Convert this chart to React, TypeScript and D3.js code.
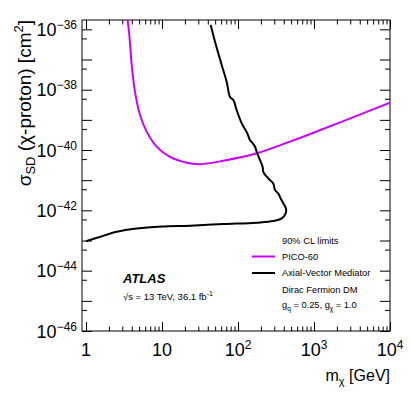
import React, { useEffect, useRef } from "react";
import * as d3 from "d3";

// PICO-60 limit (mass in GeV, cross section in cm^2)
const picoMass = [3.45, 3.71, 3.99, 4.41, 5.14, 6.3, 8.5, 12.7, 21.1, 31.6, 64, 176, 483, 1000, 3000, 10000];
const picoSigma = [3.2e-36, 6.5e-37, 6.6e-38, 8.5e-39, 1.45e-39, 4.0e-40, 1.3e-40, 5.9e-41, 3.8e-41, 3.4e-41, 4.4e-41, 7.8e-41, 1.9e-40, 3.8e-40, 1.12e-39, 3.7e-39];

// ATLAS axial-vector mediator limit
const avMass = [1, 1.53, 2.53, 4.65, 10, 23.4, 64, 176, 291, 376, 424, 428, 395, 365, 339, 307, 291, 264, 239, 215, 211, 195, 176, 167, 151, 144, 133, 112, 96, 87, 78.5, 71, 61, 49.8, 43.7];
const avSigma = [9.5e-44, 1.32e-43, 1.95e-43, 2.5e-43, 2.9e-43, 3.1e-43, 3.5e-43, 3.9e-43, 4.4e-43, 5.4e-43, 7.9e-43, 1.15e-42, 1.7e-42, 2.45e-42, 3.6e-42, 4.7e-42, 7.8e-42, 1.0e-41, 1.3e-41, 1.9e-41, 2.75e-41, 4.6e-41, 8.7e-41, 1.3e-40, 1.85e-40, 2.1e-40, 3.5e-40, 7.6e-40, 2.1e-39, 4.5e-39, 5.75e-39, 1.8e-38, 6.6e-38, 3.9e-37, 1.4e-36];

const yExponents = [-36, -37, -38, -39, -40, -41, -42, -43, -44, -45, -46];
const yLabelExponents = [-36, -38, -40, -42, -44, -46];
const xDecades = [1, 10, 100, 1000, 10000];
const xLabelExp = [0, 1, 2, 3, 4];

const legendLines = ["90% CL limits", "PICO-60", "Axial-Vector Mediator", "Dirac Fermion DM"];

const MAGENTA = "#cc00ff";
const FONT = "'Liberation Sans', Arial, Helvetica, sans-serif";

function Chart() {
  const canvas = useRef<HTMLDivElement>(null);

  const drawChart = () => {
    const width = 411;
    const height = 395;
    const margin = { top: 20, left: 82, bottom: 64, right: 21 };
    const uWidth = width - margin.left - margin.right;
    const uHeight = height - margin.top - margin.bottom;

    d3.select(canvas.current).selectAll("*").remove();

    const svg = d3
      .select(canvas.current)
      .append("svg")
      .attr("width", width)
      .attr("height", height)
      .style("position", "absolute")
      .style("left", 0)
      .style("top", 0)
      .style("font-family", FONT);

    svg.append("rect").attr("width", width).attr("height", height).attr("fill", "white");

    const g = svg.append("g").attr("transform", `translate(${margin.left},${margin.top})`);

    const x = d3.scaleLog().domain([0.885, 10000]).range([0, uWidth]);
    const y = d3.scaleLog().domain([1e-46, Math.pow(10, -35.69)]).range([uHeight, 0]);

    g.append("clipPath")
      .attr("id", "frame-clip")
      .append("rect")
      .attr("width", uWidth)
      .attr("height", uHeight);

    // ticks
    const yMajor = yExponents.map((e) => Math.pow(10, e));
    const yMinor = yExponents.map((e) => 5 * Math.pow(10, e)).filter((v) => v < y.domain()[1]);
    const xMinor: number[] = [];
    xDecades.slice(0, 4).forEach((d) => {
      for (let k = 2; k <= 9; k++) xMinor.push(k * d);
    });

    const tickStyle = (sel: any) => {
      sel.select(".domain").remove();
      sel.selectAll("line").attr("stroke", "#000").attr("stroke-width", 1);
      sel.selectAll("text").remove();
    };

    g.append("g").call(d3.axisLeft(y).tickValues(yMajor).tickSize(-10)).call(tickStyle);
    g.append("g").call(d3.axisLeft(y).tickValues(yMinor).tickSize(-5)).call(tickStyle);
    g.append("g")
      .attr("transform", `translate(${uWidth},0)`)
      .call(d3.axisRight(y).tickValues(yMajor).tickSize(-10))
      .call(tickStyle);
    g.append("g")
      .attr("transform", `translate(${uWidth},0)`)
      .call(d3.axisRight(y).tickValues(yMinor).tickSize(-5))
      .call(tickStyle);
    g.append("g")
      .attr("transform", `translate(0,${uHeight})`)
      .call(d3.axisBottom(x).tickValues(xDecades).tickSize(-9))
      .call(tickStyle);
    g.append("g")
      .attr("transform", `translate(0,${uHeight})`)
      .call(d3.axisBottom(x).tickValues(xMinor).tickSize(-4.5))
      .call(tickStyle);
    g.append("g").call(d3.axisTop(x).tickValues(xDecades).tickSize(-9)).call(tickStyle);
    g.append("g").call(d3.axisTop(x).tickValues(xMinor).tickSize(-4.5)).call(tickStyle);

    g.append("rect")
      .attr("width", uWidth)
      .attr("height", uHeight)
      .attr("fill", "none")
      .attr("stroke", "#000")
      .attr("stroke-width", 1);

    // y tick labels
    yLabelExponents.forEach((e) => {
      const t = g
        .append("text")
        .attr("x", -5)
        .attr("y", y(Math.pow(10, e)) + 6.5)
        .attr("text-anchor", "end")
        .attr("font-size", 18);
      t.append("tspan").text("10");
      t.append("tspan").attr("font-size", 12).attr("dy", -7).text("\u2212" + Math.abs(e));
    });

    // x tick labels
    xLabelExp.forEach((e) => {
      const t = g
        .append("text")
        .attr("x", x(Math.pow(10, e)))
        .attr("y", uHeight + 25)
        .attr("text-anchor", "middle")
        .attr("font-size", 18);
      if (e === 0) t.text("1");
      else if (e === 1) t.text("10");
      else {
        t.append("tspan").text("10");
        t.append("tspan").attr("font-size", 12).attr("dy", -7).text(String(e));
      }
    });

    // curves
    const line = d3
      .line<[number, number]>()
      .x((d) => x(d[0]))
      .y((d) => y(d[1]))
      .curve(d3.curveCatmullRom);

    const curves = g.append("g").attr("clip-path", "url(#frame-clip)");
    curves
      .append("path")
      .datum(picoMass.map((m, i) => [m, picoSigma[i]] as [number, number]))
      .attr("d", line)
      .attr("fill", "none")
      .attr("stroke", MAGENTA)
      .attr("stroke-width", 2);
    curves
      .append("path")
      .datum(avMass.map((m, i) => [m, avSigma[i]] as [number, number]))
      .attr("d", line)
      .attr("fill", "none")
      .attr("stroke", "#000")
      .attr("stroke-width", 2);

    // axis titles
    const yt = svg
      .append("text")
      .attr("transform", "translate(31,20) rotate(-90)")
      .attr("text-anchor", "end")
      .attr("font-size", 19);
    yt.append("tspan").text("\u03c3");
    yt.append("tspan").attr("font-size", 13).attr("dy", 4).text("SD");
    yt.append("tspan").attr("dy", -4).text(" (\u03c7-proton) [cm");
    yt.append("tspan").attr("font-size", 13).attr("dy", -8).text("2");
    yt.append("tspan").attr("dy", 8).text("]");

    const xt = svg
      .append("text")
      .attr("x", 390)
      .attr("y", 381)
      .attr("text-anchor", "end")
      .attr("font-size", 16);
    xt.append("tspan").text("m");
    xt.append("tspan").attr("font-size", 11).attr("dy", 4).text("\u03c7");
    xt.append("tspan").attr("dy", -4).text(" [GeV]");

    // legend
    const lx = 282;
    const ly = [243.5, 259.5, 276, 292.5];
    legendLines.forEach((s, i) => {
      svg.append("text").attr("x", lx).attr("y", ly[i]).attr("font-size", 9.3).text(s);
    });
    svg.append("line").attr("x1", 252).attr("x2", 275).attr("y1", 256.5).attr("y2", 256.5).attr("stroke", MAGENTA).attr("stroke-width", 2);
    svg.append("line").attr("x1", 252).attr("x2", 275).attr("y1", 273).attr("y2", 273).attr("stroke", "#000").attr("stroke-width", 2);
    const gq = svg.append("text").attr("x", lx).attr("y", 308).attr("font-size", 9.3);
    gq.append("tspan").text("g");
    gq.append("tspan").attr("font-size", 6.5).attr("dy", 3).text("q");
    gq.append("tspan").attr("dy", -3).text(" = 0.25, g");
    gq.append("tspan").attr("font-size", 6.5).attr("dy", 3).text("\u03c7");
    gq.append("tspan").attr("dy", -3).text(" = 1.0");

    // ATLAS label
    svg
      .append("text")
      .attr("x", 123)
      .attr("y", 283)
      .attr("font-size", 13)
      .attr("font-weight", "bold")
      .attr("font-style", "italic")
      .text("ATLAS");
    const lumi = svg.append("text").attr("x", 123).attr("y", 299.5).attr("font-size", 9.5);
    lumi.append("tspan").text("\u221as = 13 TeV, 36.1 fb");
    lumi.append("tspan").attr("font-size", 7).attr("dy", -4).text("-1");
  };

  useEffect(() => {
    drawChart();
  }, []);

  return <div ref={canvas}></div>;
}

export default function App() {
  return <Chart />;
}
